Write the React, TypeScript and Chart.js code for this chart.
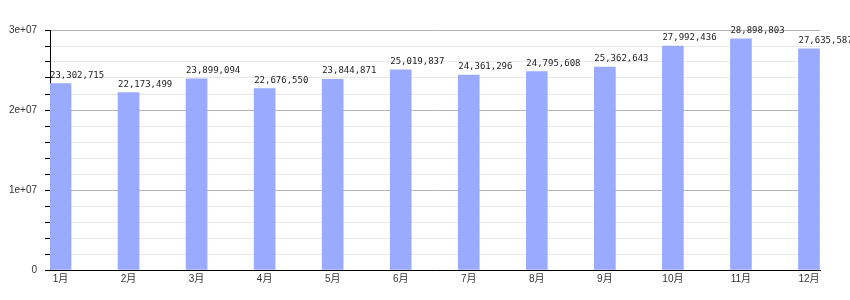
import React, { useEffect, useRef } from "react";
import { Chart, registerables } from "chart.js";

Chart.register(...registerables);

const months: string[] = ["1月", "2月", "3月", "4月", "5月", "6月", "7月", "8月", "9月", "10月", "11月", "12月"];
const values: number[] = [
  23302715, 22173499, 23899094, 22676550, 23844871, 25019837,
  24361296, 24795608, 25362643, 27992436, 28898803, 27635587,
];
const yMajorLabels: number[] = [0, 10000000, 20000000, 30000000];

const fmtY = (v: number): string => {
  if (v === 0) return "0";
  return `${v / 1e7}e+07`;
};

const valueLabels = {
  id: "valueLabels",
  afterDatasetsDraw(chart: any) {
    const meta = chart.getDatasetMeta(0);
    const ctx = chart.ctx;
    ctx.save();
    ctx.font = '9px "DejaVu Sans Mono", monospace';
    ctx.fillStyle = "#222";
    ctx.textAlign = "left";
    ctx.textBaseline = "alphabetic";
    meta.data.forEach((bar: any, i: number) => {
      const p = bar.getProps(["x", "y", "width"], true);
      ctx.fillText(values[i].toLocaleString("en-US"), p.x - p.width / 2, p.y - 6);
    });
    ctx.restore();
  },
};

export default function App() {
  const ref = useRef<HTMLCanvasElement | null>(null);

  useEffect(() => {
    document.body.style.margin = "0";
    if (!ref.current) return;
    const chart = new Chart(ref.current, {
      type: "bar",
      data: {
        datasets: [
          {
            data: values.map((v, i) => ({ x: i, y: v })),
            backgroundColor: "#99aaff",
            borderWidth: 0,
            barThickness: 21,
          },
        ],
      },
      options: {
        responsive: false,
        animation: false,
        layout: { padding: { top: 30, right: 30, left: 0, bottom: 0 } },
        plugins: {
          legend: { display: false },
          tooltip: { enabled: false },
        },
        scales: {
          x: {
            type: "linear",
            offset: false,
            min: -0.1543,
            max: 11.162,
            afterFit: (s: any) => {
              s.height = 30;
            },
            afterBuildTicks: (axis: any) => {
              axis.ticks = months.map((_, i) => ({ value: i }));
            },
            grid: { display: false, drawTicks: false, offset: false },
            border: { display: true, color: "#000", width: 1 },
            ticks: {
              autoSkip: false,
              maxRotation: 0,
              padding: 3,
              color: "#333",
              font: { family: '"Liberation Sans", "Noto Sans CJK SC", sans-serif', size: 10 },
              callback: (v: any) => months[Math.round(Number(v))] ?? "",
            },
          },
          y: {
            min: 0,
            max: 30000000,
            afterFit: (s: any) => {
              s.width = 50;
            },
            ticks: {
              stepSize: 2000000,
              padding: 8,
              color: "#333",
              font: { family: '"Liberation Sans", sans-serif', size: 10 },
              callback: (v: any) => (yMajorLabels.includes(Number(v)) ? fmtY(Number(v)) : ""),
            },
            grid: {
              color: (c: any) =>
                c.tick && c.tick.value % 10000000 === 0 ? "#b4b4b4" : "#e8e8e8",
              tickColor: "#000",
              tickLength: 5,
            },
            border: { display: true, color: "#000", width: 1 },
          },
        },
      },
      plugins: [valueLabels],
    });
    return () => chart.destroy();
  }, []);

  return (
    <div style={{ width: 850, height: 300, background: "#fff" }}>
      <canvas ref={ref} width={850} height={300} />
    </div>
  );
}
